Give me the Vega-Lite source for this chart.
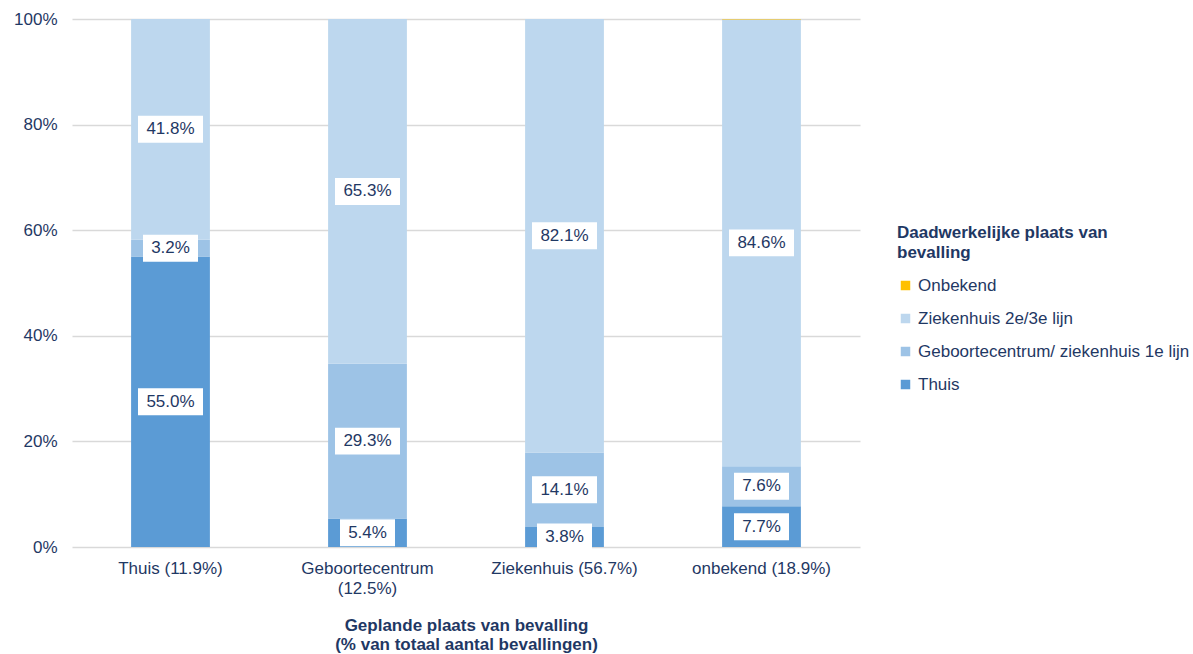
{
  "$schema": "https://vega.github.io/schema/vega-lite/v6.json",
  "width": 788,
  "height": 528,
  "autosize": {"type": "none"},
  "padding": {"left": 72, "top": 19, "right": 333, "bottom": 107},
  "background": "white",
  "config": {
    "font": "Liberation Sans",
    "view": {"stroke": null}
  },
  "data": {
    "values": [
      {"gepland": "Thuis (11.9%)", "plaats": "Thuis", "volgorde": 1, "waarde": 0.550},
      {"gepland": "Thuis (11.9%)", "plaats": "Geboortecentrum/ ziekenhuis 1e lijn", "volgorde": 2, "waarde": 0.032},
      {"gepland": "Thuis (11.9%)", "plaats": "Ziekenhuis 2e/3e lijn", "volgorde": 3, "waarde": 0.418},
      {"gepland": "Thuis (11.9%)", "plaats": "Onbekend", "volgorde": 4, "waarde": 0.0005},
      {"gepland": "Geboortecentrum (12.5%)", "plaats": "Thuis", "volgorde": 1, "waarde": 0.054},
      {"gepland": "Geboortecentrum (12.5%)", "plaats": "Geboortecentrum/ ziekenhuis 1e lijn", "volgorde": 2, "waarde": 0.293},
      {"gepland": "Geboortecentrum (12.5%)", "plaats": "Ziekenhuis 2e/3e lijn", "volgorde": 3, "waarde": 0.653},
      {"gepland": "Geboortecentrum (12.5%)", "plaats": "Onbekend", "volgorde": 4, "waarde": 0.0005},
      {"gepland": "Ziekenhuis (56.7%)", "plaats": "Thuis", "volgorde": 1, "waarde": 0.038},
      {"gepland": "Ziekenhuis (56.7%)", "plaats": "Geboortecentrum/ ziekenhuis 1e lijn", "volgorde": 2, "waarde": 0.141},
      {"gepland": "Ziekenhuis (56.7%)", "plaats": "Ziekenhuis 2e/3e lijn", "volgorde": 3, "waarde": 0.821},
      {"gepland": "Ziekenhuis (56.7%)", "plaats": "Onbekend", "volgorde": 4, "waarde": 0.0005},
      {"gepland": "onbekend (18.9%)", "plaats": "Thuis", "volgorde": 1, "waarde": 0.077},
      {"gepland": "onbekend (18.9%)", "plaats": "Geboortecentrum/ ziekenhuis 1e lijn", "volgorde": 2, "waarde": 0.076},
      {"gepland": "onbekend (18.9%)", "plaats": "Ziekenhuis 2e/3e lijn", "volgorde": 3, "waarde": 0.846},
      {"gepland": "onbekend (18.9%)", "plaats": "Onbekend", "volgorde": 4, "waarde": 0.001}
    ]
  },
  "transform": [
    {"stack": "waarde", "groupby": ["gepland"], "sort": [{"field": "volgorde", "order": "ascending"}], "as": ["y0", "y1"]},
    {"calculate": "(datum.y0 + datum.y1) / 2", "as": "ymid"}
  ],
  "encoding": {
    "x": {
      "field": "gepland",
      "type": "nominal",
      "sort": null,
      "scale": {"paddingInner": 0.6, "paddingOuter": 0.3},
      "axis": {
        "labelAngle": 0,
        "labelExpr": "datum.label == 'Geboortecentrum (12.5%)' ? ['Geboortecentrum', '(12.5%)'] : datum.label",
        "labelFontSize": 17,
        "labelColor": "#1F3864",
        "labelPadding": 13,
        "labelLineHeight": 20,
        "domain": false,
        "ticks": false,
        "title": ["Geplande plaats van bevalling", "(% van totaal aantal bevallingen)"],
        "titleFontSize": 17,
        "titleFontWeight": "bold",
        "titleColor": "#1F3864",
        "titleLineHeight": 19,
        "titlePadding": 21
      }
    }
  },
  "layer": [
    {
      "mark": {"type": "bar", "clip": true},
      "encoding": {
        "y": {
          "field": "y0",
          "type": "quantitative",
          "scale": {"domain": [0, 1], "nice": false},
          "axis": {
            "values": [0, 0.2, 0.4, 0.6, 0.8, 1],
            "format": ".0%",
            "title": null,
            "domain": false,
            "ticks": false,
            "grid": true,
            "gridColor": "#D9D9D9",
            "gridWidth": 1.5,
            "labelFontSize": 17,
            "labelColor": "#1F3864",
            "labelPadding": 15
          }
        },
        "y2": {"field": "y1"},
        "color": {
          "field": "plaats",
          "type": "nominal",
          "scale": {
            "domain": ["Onbekend", "Ziekenhuis 2e/3e lijn", "Geboortecentrum/ ziekenhuis 1e lijn", "Thuis"],
            "range": ["#FFC000", "#BDD7EE", "#9DC3E6", "#5B9BD5"]
          },
          "legend": {
            "orient": "none",
            "legendX": 825,
            "legendY": 206,
            "title": ["Daadwerkelijke plaats van", "bevalling"],
            "titleFontSize": 17,
            "titleFontWeight": "bold",
            "titleColor": "#1F3864",
            "titleLimit": 400,
            "titleLineHeight": 20,
            "titlePadding": 15,
            "labelFontSize": 17,
            "labelColor": "#1F3864",
            "labelLimit": 400,
            "labelOffset": 4,
            "symbolType": "square",
            "symbolSize": 90,
            "symbolStrokeWidth": 0,
            "rowPadding": 15
          }
        }
      }
    },
    {
      "transform": [{"filter": "datum.plaats != 'Onbekend'"}],
      "mark": {"type": "point", "filled": true, "fill": "white", "opacity": 1, "strokeWidth": 0},
      "encoding": {
        "y": {"field": "ymid", "type": "quantitative"},
        "shape": {
          "condition": {"test": "datum.waarde >= 0.1", "value": "M-1,-0.415H1V0.415H-1Z"},
          "value": "M-1,-0.49H1V0.49H-1Z"
        },
        "size": {
          "condition": {"test": "datum.waarde >= 0.1", "value": 4225},
          "value": 3025
        }
      }
    },
    {
      "transform": [{"filter": "datum.plaats != 'Onbekend'"}],
      "mark": {"type": "text", "fontSize": 17, "color": "#1F3864", "baseline": "middle", "align": "center"},
      "encoding": {
        "y": {"field": "ymid", "type": "quantitative"},
        "text": {"field": "waarde", "type": "quantitative", "format": ".1%"}
      }
    }
  ]
}
